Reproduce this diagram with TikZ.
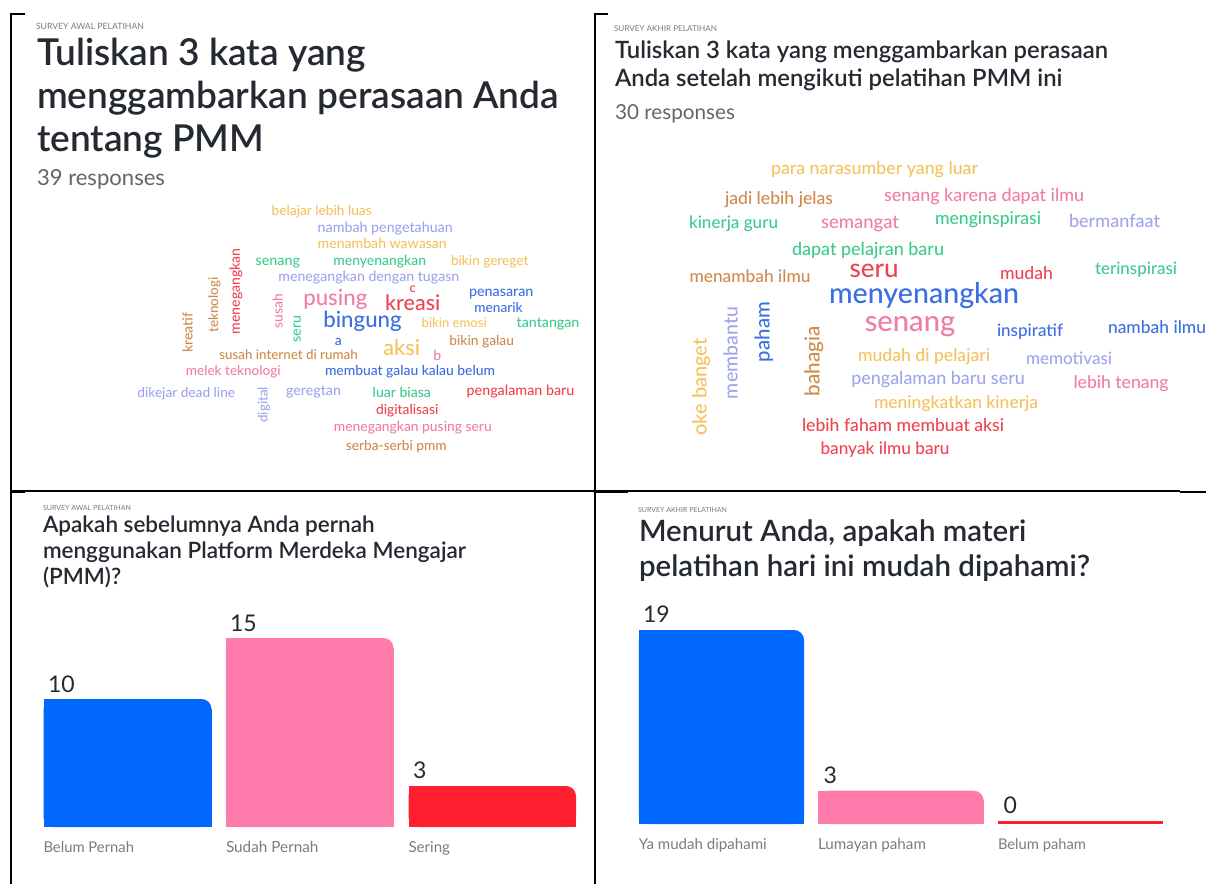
\documentclass[tikz,border=0pt]{standalone}
\usepackage{fontspec}
\setmainfont{Lato}
\IfFontExistsTF{Lato Semibold}{\newfontfamily\titlefont{Lato Semibold}}{\newfontfamily\titlefontA{Lato}\newcommand\titlefont{\titlefontA\bfseries}}
\IfFontExistsTF{Lato Medium}{\newfontfamily\wordfont{Lato Medium}}{\newfontfamily\wordfont{Lato}}
\definecolor{wyel}{HTML}{F5C25E}
\definecolor{wlav}{HTML}{A0A4EE}
\definecolor{wgrn}{HTML}{3CCB8C}
\definecolor{wbrn}{HTML}{CF8A4C}
\definecolor{wpnk}{HTML}{F07DA6}
\definecolor{wred}{HTML}{EE4450}
\definecolor{wblu}{HTML}{3A6EE4}
\definecolor{ttl}{HTML}{252932}
\definecolor{sub}{HTML}{62656B}
\definecolor{lab}{HTML}{7C7C7C}
\definecolor{barblue}{HTML}{0068FF}
\definecolor{barpink}{HTML}{FF7BAC}
\definecolor{barred}{HTML}{FF1F2F}
\tikzset{
  fitbox/.style={inner sep=0pt, outer sep=0pt},
  frame/.style={line width=2.6pt, black},
  thinframe/.style={line width=1.6pt, black}
}
\newlength\fitlen
\newcommand\wcoff{0}
\newcommand\fitsize[3]{\pgfinterruptpicture\sbox0{\normalfont#2\fontsize{10pt}{12pt}\selectfont #3}\global\fitlen=\wd0\relax\endpgfinterruptpicture\pgfmathsetmacro\fitsz{10*#1/\fitlen}}
\newcommand\sznode[7]{\node[fitbox,anchor=#4,text=#5,font={#6\fontsize{\fitsz pt}{\fitsz pt}\selectfont}] (#1) at (#2,#3) {#7};}
\newcommand\cw[7]{\fitsize{#4}{\wordfont}{#7}\node[fitbox,anchor=mid,text=#5,rotate=#6,font={\wordfont\fontsize{\fitsz pt}{\fitsz pt}\selectfont}] (#1) at (#2,{#3+\wcoff}) {#7};}
\newcommand\cl[6]{\node[fitbox,anchor=mid,text=#5,font={\wordfont\fontsize{#4pt}{#4pt}\selectfont}] (#1) at (#2,{#3+\wcoff}) {#6};}
\newcommand\numnode[4]{\node[fitbox,anchor=base west,text=ttl,font={\fontsize{23pt}{23pt}\selectfont}] (#1) at (#2,#3) {#4};}
\newcommand\pmmbar[5]{%
  \fill[#5,rounded corners=10pt] (#1,#2) rectangle (#3,#4);
  \fill[#5] (#1,#2) rectangle ({#3-10},#4);
  \fill[#5] (#1,{#2+10}) rectangle (#3,#4);}
\begin{document}
\begin{tikzpicture}[x=1pt,y=-1pt]
\fill[white] (0,0) rectangle (1206,884);
\useasboundingbox (0,0) rectangle (1206,884);

% frame lines
\draw[frame] (11,884) -- (11,14) -- (25,14);
\draw[frame] (595,884) -- (595,14) -- (608,14);
\draw[thinframe] (11,491) -- (1180,491);
\draw[frame] (11,491.5) -- (25,491.5);
\draw[frame] (595,491.5) -- (628,491.5);
\draw[frame] (1180,492) -- (1206,492);

% ---------- top left ----------
\fitsize{108}{}{SURVEY AWAL PELATIHAN}
\sznode{s1}{36}{29}{base west}{lab}{}{SURVEY AWAL PELATIHAN}
\fitsize{522}{\titlefont}{menggambarkan perasaan Anda}
\sznode{t1a}{37}{65}{base west}{ttl}{\titlefont}{Tuliskan 3 kata yang}
\sznode{t1b}{37}{108}{base west}{ttl}{\titlefont}{menggambarkan perasaan Anda}
\sznode{t1c}{37}{151}{base west}{ttl}{\titlefont}{tentang PMM}
\fitsize{128}{}{39 responses}
\sznode{r1}{37}{185}{base west}{sub}{}{39 responses}

\renewcommand\wcoff{2.5}
\cw{tl1}{321.7}{210.7}{100}{wyel}{0}{belajar lebih luas}
\cw{tl2}{385.2}{227.3}{135}{wlav}{0}{nambah pengetahuan}
\cw{tl3}{382.2}{243.3}{129}{wyel}{0}{menambah wawasan}
\cw{tl4}{277.8}{260.7}{44.3}{wgrn}{0}{senang}
\cw{tl5}{379.7}{260.7}{92.7}{wgrn}{0}{menyenangkan}
\cw{tl6}{489.7}{260.7}{77.3}{wyel}{0}{bikin gereget}
\cw{tl7}{368.8}{276.7}{181}{wlav}{0}{menegangkan dengan tugasn}
\cl{tl8}{412.7}{287.5}{13}{wred}{c}
\cw{tl9}{501.2}{291}{64.3}{wblu}{0}{penasaran}
\cw{tl10}{335.3}{300.7}{64}{wpnk}{0}{pusing}
\cw{tl11}{412.7}{305.5}{55}{wred}{0}{kreasi}
\cw{tl12}{498.5}{307.7}{48.3}{wblu}{0}{menarik}
\cw{tl13}{362.5}{322.5}{78.3}{wblu}{0}{bingung}
\cw{tl14}{454.2}{322.7}{65}{wyel}{0}{bikin emosi}
\cw{tl15}{548}{322.7}{62.7}{wgrn}{0}{tantangan}
\cw{tl16}{280}{308.8}{34.3}{wpnk}{90}{susah}
\cw{tl17}{298.3}{326.7}{26.7}{wgrn}{90}{seru}
\cw{tl18}{237.3}{288.7}{86}{wred}{90}{menegangkan}
\cw{tl19}{215.7}{302.5}{55}{wbrn}{90}{teknologi}
\cw{tl20}{190}{330}{40}{wbrn}{90}{kreatif}
\cl{tl21}{338.3}{340.5}{14}{wblu}{a}
\cw{tl22}{401.7}{350}{36.7}{wyel}{0}{aksi}
\cl{tl23}{437.3}{355}{14}{wpnk}{b}
\cw{tl24}{481.7}{340}{64.7}{wbrn}{0}{bikin galau}
\cw{tl25}{288.5}{354.3}{138.3}{wbrn}{0}{susah internet di rumah}
\cw{tl26}{233.3}{370}{94.7}{wpnk}{0}{melek teknologi}
\cw{tl27}{410}{370}{170}{wblu}{0}{membuat galau kalau belum}
\cw{tl28}{186.2}{392.7}{97.7}{wlav}{0}{dikejar dead line}
\cw{tl29}{265}{402.2}{35.7}{wlav}{90}{digital}
\cw{tl30}{313.5}{390.7}{55}{wlav}{0}{geregtan}
\cw{tl31}{401.8}{392.7}{58.3}{wgrn}{0}{luar biasa}
\cw{tl32}{520.5}{390.7}{107.7}{wred}{0}{pengalaman baru}
\cw{tl33}{407.2}{409.3}{62.3}{wred}{0}{digitalisasi}
\cw{tl34}{412.8}{426}{157.7}{wpnk}{0}{menegangkan pusing seru}
\cw{tl35}{396.3}{445}{100.7}{wbrn}{0}{serba-serbi pmm}

% ---------- top right ----------
\fitsize{103}{}{SURVEY AKHIR PELATIHAN}
\sznode{s2}{614}{31}{base west}{lab}{}{SURVEY AKHIR PELATIHAN}
\fitsize{493}{\titlefont}{Tuliskan 3 kata yang menggambarkan perasaan}
\sznode{t2a}{615}{58}{base west}{ttl}{\titlefont}{Tuliskan 3 kata yang menggambarkan perasaan}
\sznode{t2b}{615}{86}{base west}{ttl}{\titlefont}{Anda setelah mengikuti pelatihan PMM ini}
\fitsize{120}{}{30 responses}
\sznode{r2}{615}{119}{base west}{sub}{}{30 responses}

\renewcommand\wcoff{4}
\cw{tr1}{874.5}{168}{207}{wyel}{0}{para narasumber yang luar}
\cw{tr2}{779}{198}{108}{wbrn}{0}{jadi lebih jelas}
\cw{tr3}{984}{195}{200}{wpnk}{0}{senang karena dapat ilmu}
\cw{tr4}{733.5}{222}{89}{wgrn}{0}{kinerja guru}
\cw{tr5}{860}{222}{78}{wpnk}{0}{semangat}
\cw{tr6}{988}{218}{106}{wgrn}{0}{menginspirasi}
\cw{tr7}{1114.5}{221}{91}{wlav}{0}{bermanfaat}
\cw{tr8}{868}{249}{152}{wgrn}{0}{dapat pelajran baru}
\cw{tr9}{750}{276}{121}{wbrn}{0}{menambah ilmu}
\cw{tr10}{874}{271}{49}{wred}{0}{seru}
\cw{tr11}{1026.5}{273}{53}{wred}{0}{mudah}
\cw{tr12}{1136}{268}{82}{wgrn}{0}{terinspirasi}
\cw{tr13}{924}{297}{190}{wblu}{0}{menyenangkan}
\cw{tr14}{910}{325}{90.5}{wpnk}{0}{senang}
\cw{tr15}{1030}{330}{66}{wblu}{0}{inspiratif}
\cw{tr16}{1157}{327}{98}{wblu}{0}{nambah ilmu}
\cw{tr17}{924}{355}{132}{wyel}{0}{mudah di pelajari}
\cw{tr18}{1069}{358}{86}{wlav}{0}{memotivasi}
\cw{tr19}{938}{378}{173.5}{wlav}{0}{pengalaman baru seru}
\cw{tr20}{1121}{382}{95}{wpnk}{0}{lebih tenang}
\cw{tr21}{956}{402}{164}{wyel}{0}{meningkatkan kinerja}
\cw{tr22}{903}{425}{202}{wred}{0}{lebih faham membuat aksi}
\cw{tr23}{885}{448}{129}{wred}{0}{banyak ilmu baru}
\cw{tr24}{704}{383}{97}{wyel}{90}{oke banget}
\cw{tr25}{735}{349}{92}{wlav}{90}{membantu}
\cw{tr26}{767}{328}{60}{wblu}{90}{paham}
\cw{tr27}{817}{357}{70}{wbrn}{90}{bahagia}

% ---------- bottom left ----------
\fitsize{88}{}{SURVEY AWAL PELATIHAN}
\sznode{s3}{43}{510}{base west}{lab}{}{SURVEY AWAL PELATIHAN}
\fitsize{423}{\titlefont}{menggunakan Platform Merdeka Mengajar}
\sznode{t3a}{43}{532}{base west}{ttl}{\titlefont}{Apakah sebelumnya Anda pernah}
\sznode{t3b}{43}{558}{base west}{ttl}{\titlefont}{menggunakan Platform Merdeka Mengajar}
\sznode{t3c}{43}{584}{base west}{ttl}{\titlefont}{(PMM)?}

\pmmbar{43.5}{699}{211.5}{827}{barblue}
\pmmbar{225.8}{638}{393.5}{827}{barpink}
\pmmbar{408.5}{786}{576}{827}{barred}
\numnode{n1}{48}{692}{10}
\numnode{n2}{230}{631}{15}
\numnode{n3}{413}{778}{3}
\fitsize{90.5}{}{Belum Pernah}
\sznode{l1}{43.5}{852}{base west}{lab}{}{Belum Pernah}
\fitsize{92.5}{}{Sudah Pernah}
\sznode{l2}{226}{852}{base west}{lab}{}{Sudah Pernah}
\fitsize{41.5}{}{Sering}
\sznode{l3}{408.5}{852}{base west}{lab}{}{Sering}

% ---------- bottom right ----------
\fitsize{89}{}{SURVEY AKHIR PELATIHAN}
\sznode{s4}{638}{512}{base west}{lab}{}{SURVEY AKHIR PELATIHAN}
\fitsize{451}{\titlefont}{pelatihan hari ini mudah dipahami?}
\sznode{t4a}{639}{541}{base west}{ttl}{\titlefont}{Menurut Anda, apakah materi}
\sznode{t4b}{639}{576}{base west}{ttl}{\titlefont}{pelatihan hari ini mudah dipahami?}

\pmmbar{638.8}{630}{804}{824}{barblue}
\pmmbar{818}{790.7}{983.7}{824}{barpink}
\fill[barred] (998,820.5) rectangle (1163,824);
\numnode{n4}{643}{622}{19}
\numnode{n5}{823.5}{783}{3}
\numnode{n6}{1003.5}{813}{0}
\fitsize{128}{}{Ya mudah dipahami}
\sznode{l4}{638.8}{849}{base west}{lab}{}{Ya mudah dipahami}
\fitsize{108}{}{Lumayan paham}
\sznode{l5}{818}{849}{base west}{lab}{}{Lumayan paham}
\fitsize{88}{}{Belum paham}
\sznode{l6}{998}{849}{base west}{lab}{}{Belum paham}
\end{tikzpicture}
\end{document}
